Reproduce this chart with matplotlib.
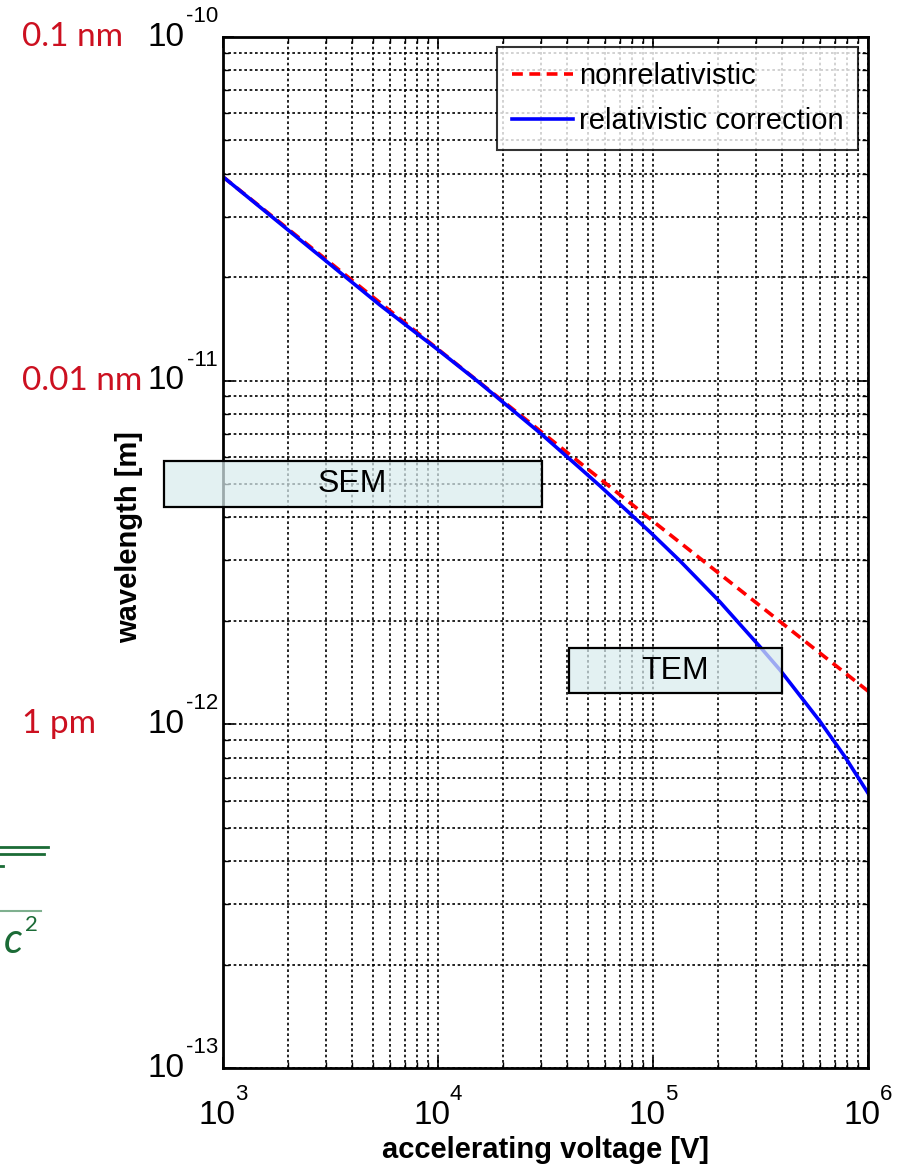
import numpy as np
import matplotlib
matplotlib.use("Agg")
import matplotlib.pyplot as plt
from matplotlib.patches import Rectangle
from matplotlib.lines import Line2D
from matplotlib import font_manager
from matplotlib.transforms import offset_copy

# values
V_nonrel = [1e3, 1e4, 1e5, 1e6]
lam_nonrel = [3.92e-11, 1.235e-11, 3.9e-12, 1.25e-12]

V_rel = [1e3, 5370, 1e4, 15670, 29800, 45700, 56700, 96800, 1.335e5, 2.05e5,
         3.15e5, 3.896e5, 5.98e5, 7.82e5, 1e6]
lam_rel = [3.92e-11, 1.66e-11, 1.23e-11, 9.84e-12, 7.05e-12, 5.57e-12, 4.94e-12,
           3.63e-12, 2.99e-12, 2.27e-12, 1.68e-12, 1.44e-12, 1.02e-12, 8.04e-13,
           6.31e-13]

# instrument ranges (voltage span, wavelength span)
sem_V = [531, 3.03e4]
sem_lam = [4.29e-12, 5.85e-12]
tem_V = [4.08e4, 3.97e5]
tem_lam = [1.23e-12, 1.67e-12]

xticks = [1e3, 1e4, 1e5, 1e6]
xexp = ['3', '4', '5', '6']
yticks = [1e-13, 1e-12, 1e-11, 1e-10]
yexp = ['-13', '-12', '-11', '-10']

unit_labels = ["0.1 nm", "0.01 nm", "1 pm"]
unit_vals = [1e-10, 1e-11, 1e-12]

names = {f.name for f in font_manager.fontManager.ttflist}
main_font = 'Liberation Sans Narrow' if 'Liberation Sans Narrow' in names else 'Liberation Sans'
NARROW = [main_font, 'DejaVu Sans']
plt.rcParams['font.family'] = NARROW

fig = plt.figure(figsize=(8.98, 11.68), dpi=100)
ax = fig.add_axes([0.2483, 0.0856, 0.7183, 0.8827])
ax.set_xscale('log')
ax.set_yscale('log')
ax.set_xlim(1e3, 1e6)
ax.set_ylim(1e-13, 1e-10)

ax.plot(V_nonrel, lam_nonrel, color='#ff0000', lw=2.6, linestyle=(0, (3.0, 1.8)),
        label='nonrelativistic', zorder=2)
ax.plot(V_rel, lam_rel, color='#0000ff', lw=2.6, label='relativistic correction', zorder=2.1)

ax.grid(True, which='both', color='black', linestyle=(0, (1.6, 1.6)), lw=1.2)
ax.tick_params(which='both', direction='in', top=True, right=True)
ax.tick_params(which='major', length=8, width=1.2)
ax.tick_params(which='minor', length=4, width=1.0)
for s in ax.spines.values():
    s.set_linewidth(2)

ax.set_xticks(xticks)
ax.set_yticks(yticks)
ax.set_xticklabels([])
ax.set_yticklabels([])
ax.minorticks_on()
ax.xaxis.set_minor_formatter(plt.NullFormatter())
ax.yaxis.set_minor_formatter(plt.NullFormatter())

# tick labels as "10" with raised exponent
px = 72.0 / fig.dpi
xt = ax.get_xaxis_transform()
for v, e in zip(xticks, xexp):
    ax.text(v, 0, '10', fontsize=24, ha='center', va='center', clip_on=False,
            transform=offset_copy(xt, fig, x=-6 * px, y=-47 * px, units='points'))
    ax.text(v, 0, e, fontsize=16, ha='left', va='bottom', clip_on=False,
            transform=offset_copy(xt, fig, x=12 * px, y=-37 * px, units='points'))
yt = ax.get_yaxis_transform()
for v, e in zip(yticks, yexp):
    ax.text(0, v, '10', fontsize=24, ha='right', va='center', clip_on=False,
            transform=offset_copy(yt, fig, x=-38 * px, y=0, units='points'))
    ax.text(0, v, e, fontsize=16, ha='right', va='bottom', clip_on=False,
            transform=offset_copy(yt, fig, x=-5 * px, y=10 * px, units='points'))

ax.set_xlabel('accelerating voltage [V]', fontsize=21, fontweight='bold')
ax.xaxis.set_label_coords(0.5, -0.066)
ax.set_ylabel('wavelength [m]', fontsize=21, fontweight='bold')
ax.yaxis.set_label_coords(-0.124, 0.515)

leg = ax.legend(loc='upper right', fontsize=21, frameon=True, fancybox=False,
                edgecolor='black', handlelength=2.1, handletextpad=0.2,
                borderaxespad=0.35, labelspacing=0.6, borderpad=0.5)
leg.get_frame().set_linewidth(1.5)

for V, lam, name in [(sem_V, sem_lam, 'SEM'), (tem_V, tem_lam, 'TEM')]:
    r = Rectangle((V[0], lam[0]), V[1] - V[0], lam[1] - lam[0],
                  facecolor=(0.85, 0.925, 0.935, 0.72), edgecolor='black', lw=1.6,
                  zorder=3, clip_on=False)
    ax.add_patch(r)
    xc = np.sqrt(V[0] * V[1])
    yc = np.sqrt(lam[0] * lam[1])
    ax.text(xc, yc, name, fontsize=23, ha='center', va='center', zorder=4,
            family=NARROW)

# red unit annotations left of the axis
for lab, val in zip(unit_labels, unit_vals):
    yf = ax.transAxes.inverted().transform(ax.transData.transform((1e3, val)))[1]
    fy = fig.transFigure.inverted().transform(ax.transAxes.transform((0, yf)))[1]
    fig.text(0.0245, fy, lab, color='#cc1020', fontsize=24,
             ha='left', va='center', family=['Lato', 'DejaVu Sans'])

# cropped formula fragment at far left
green = '#1b6b36'
fig.add_artist(Line2D([0, 0.0535], [0.2745, 0.2745], color=green, lw=2.0))
fig.add_artist(Line2D([0, 0.049], [0.2688, 0.2688], color=green, lw=2.0))
fig.add_artist(Line2D([0, 0.0035], [0.2585, 0.2585], color=green, lw=2.0))
fig.add_artist(Line2D([0, 0.046], [0.2200, 0.2200], color='#7fb08f', lw=1.5))
fig.text(0.004, 0.184, 'c', color=green, fontsize=30, style='italic',
         family=['Lato', 'DejaVu Sans'])
fig.text(0.028, 0.203, '2', color=green, fontsize=16,
         family=['Lato', 'DejaVu Sans'])

fig.savefig('out.png', dpi=100)
